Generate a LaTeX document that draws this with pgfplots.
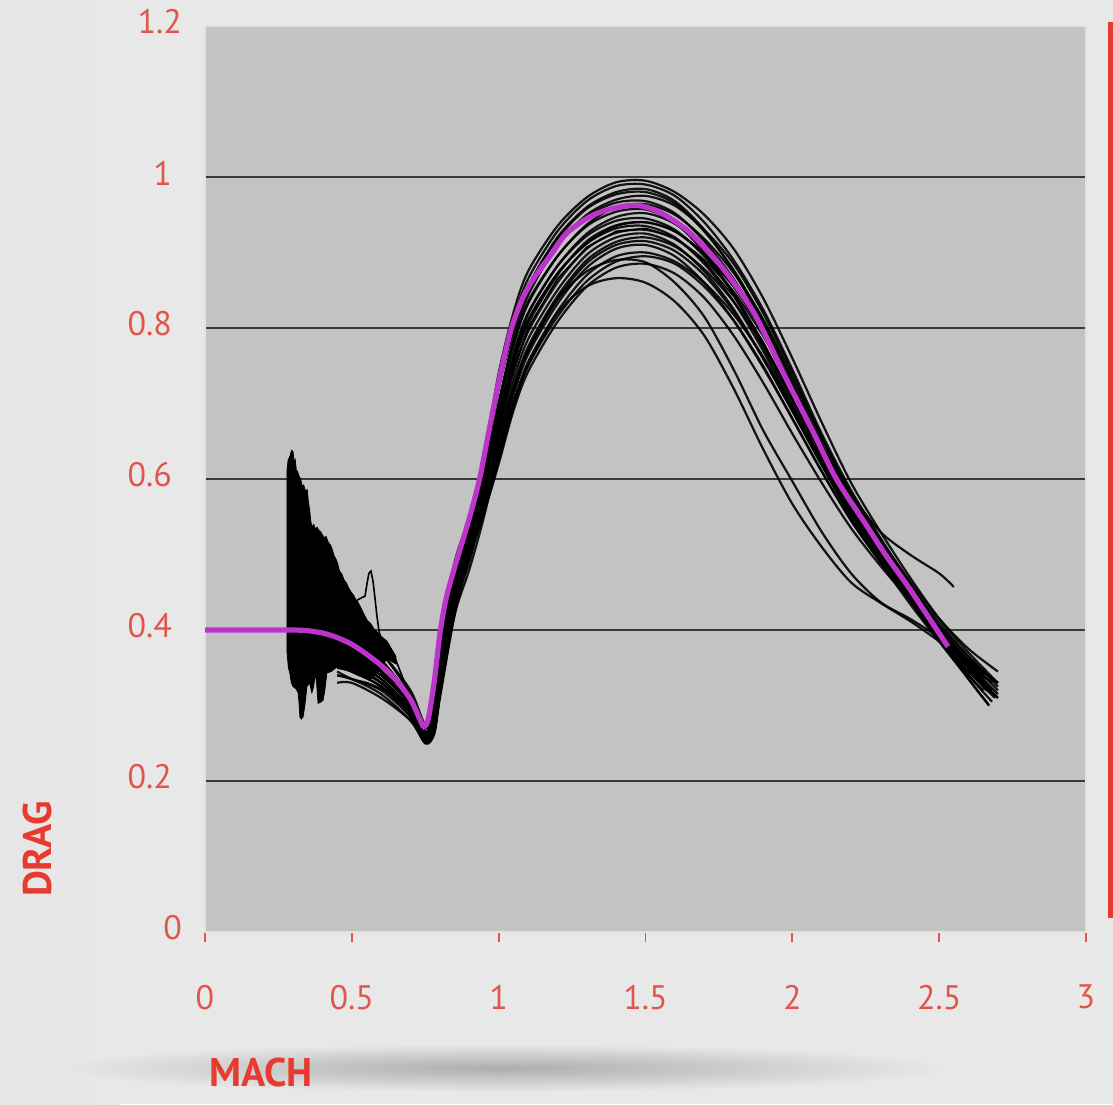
\documentclass[border=0pt]{standalone}
\usepackage{fontspec}
\setmainfont{PT Sans}
\usepackage{pgfplots}
\pgfplotsset{compat=1.18}
\definecolor{bg}{HTML}{E8E8E8}
\definecolor{plotgray}{HTML}{C3C3C3}
\definecolor{boxline}{HTML}{E2E2E2}
\definecolor{gridc}{HTML}{3A3A3A}
\definecolor{tickred}{HTML}{E0564A}
\definecolor{labelred}{HTML}{E63B2E}
\definecolor{mag}{HTML}{BC34C9}
\pgfplotsset{blk/.style={black, line width=1.1pt, smooth, tension=0.5, opacity=0.9}}
\begin{document}
\begin{tikzpicture}[x=1pt,y=1pt]
\fill[bg] (0,0) rectangle (556.5,552);
\shade[left color=black!10, right color=bg] (0,0) rectangle (60,552);
\shade[inner color=black!32, outer color=bg] (250,18) ellipse [x radius=225, y radius=12];
\fill[labelred] (553.8,93) rectangle (556.5,541);
\begin{axis}[
  at={(102.5pt,86pt)}, anchor=south west, scale only axis,
  width=440.5pt, height=453pt,
  xmin=0, xmax=3, ymin=0, ymax=1.2,
  axis background/.style={fill=plotgray},
  axis line style={draw=boxline, line width=1pt},
  xtick={0,0.5,1,1.5,2,2.5,3},
  ytick={0.2,0.4,0.6,0.8,1},
  extra y ticks={0,1.2},
  extra y tick style={grid=none, major tick length=0pt},
  ymajorgrids, major grid style={draw=gridc, line width=1.2pt},
  xtick pos=bottom, ytick pos=left,
  tick align=outside, major tick length=5pt,
  x tick style={draw=tickred, line width=0.9pt},
  y tick style={draw=none},
  /pgf/number format/assume math mode=true,
  ticklabel style={font=\fontsize{17}{19}\selectfont, text=tickred},
  xticklabel style={yshift=-18pt},
  yticklabel style={xshift=-8pt, yshift=2pt},
  clip=true,
]
% noisy region (filled)
\addplot[fill=black, draw=black, line width=0.4pt] coordinates {
(0.279,0.372)(0.279,0.61)(0.283,0.625)(0.289,0.63)(0.295,0.638)(0.300,0.636)(0.303,0.622)(0.307,0.626)(0.311,0.612)(0.315,0.610)(0.320,0.604)(0.326,0.600)(0.331,0.590)(0.336,0.592)(0.342,0.584)(0.348,0.586)(0.352,0.570)(0.356,0.560)(0.360,0.545)(0.364,0.536)(0.370,0.540)(0.376,0.534)(0.382,0.536)(0.388,0.532)(0.394,0.530)(0.400,0.526)(0.406,0.522)(0.412,0.524)(0.420,0.516)(0.428,0.512)(0.434,0.506)(0.440,0.498)(0.446,0.494)(0.452,0.488)(0.458,0.478)(0.466,0.474)(0.474,0.466)(0.482,0.462)(0.490,0.455)(0.498,0.450)(0.506,0.446)(0.514,0.440)(0.522,0.436)(0.530,0.430)(0.540,0.422)(0.552,0.413)(0.565,0.408)(0.578,0.400)(0.590,0.396)(0.605,0.390)(0.620,0.385)(0.635,0.375)(0.650,0.365)
(0.650,0.355)(0.620,0.362)(0.590,0.345)(0.562,0.334)(0.520,0.340)(0.483,0.347)(0.449,0.351)(0.430,0.345)(0.415,0.343)(0.408,0.320)(0.402,0.307)(0.392,0.304)(0.385,0.303)(0.380,0.330)(0.375,0.343)(0.370,0.325)(0.364,0.317)(0.356,0.330)(0.347,0.325)(0.340,0.300)(0.334,0.285)(0.328,0.282)(0.323,0.285)(0.320,0.305)(0.317,0.317)(0.310,0.322)(0.300,0.325)(0.294,0.330)(0.289,0.343)(0.284,0.350)(0.279,0.372)
} -- cycle;
% individual runs
\addplot[blk] coordinates {(0.45,0.40)(0.5,0.39)(0.6,0.36)(0.7,0.31)(0.75,0.27)(0.78,0.31)(0.8,0.39)(0.85,0.49)(0.9,0.55)(0.95,0.63)(1.0,0.74)(1.05,0.82)(1.1,0.875)(1.2,0.935)(1.3,0.973)(1.4,0.993)(1.5,0.995)(1.6,0.98)(1.7,0.95)(1.8,0.905)(1.9,0.84)(2.0,0.76)(2.1,0.675)(2.2,0.595)(2.3,0.53)(2.4,0.47)(2.5,0.415)(2.6,0.37)(2.7,0.33)};
\addplot[blk] coordinates {(0.45,0.38)(0.5,0.37)(0.6,0.345)(0.7,0.30)(0.75,0.262)(0.78,0.30)(0.8,0.37)(0.85,0.48)(0.9,0.545)(0.95,0.62)(1.0,0.73)(1.05,0.81)(1.1,0.865)(1.2,0.928)(1.3,0.968)(1.4,0.988)(1.5,0.99)(1.6,0.975)(1.7,0.94)(1.8,0.89)(1.9,0.825)(2.0,0.745)(2.1,0.66)(2.2,0.585)(2.3,0.522)(2.4,0.462)(2.5,0.405)(2.6,0.355)(2.68,0.32)};
\addplot[blk] coordinates {(0.45,0.41)(0.5,0.40)(0.6,0.37)(0.7,0.315)(0.75,0.27)(0.78,0.29)(0.8,0.36)(0.85,0.47)(0.9,0.54)(0.95,0.61)(1.0,0.72)(1.05,0.80)(1.1,0.855)(1.2,0.92)(1.3,0.96)(1.4,0.98)(1.5,0.984)(1.6,0.968)(1.7,0.93)(1.8,0.875)(1.9,0.805)(2.0,0.725)(2.1,0.645)(2.2,0.575)(2.3,0.515)(2.4,0.46)(2.5,0.41)(2.6,0.365)(2.7,0.325)};
\addplot[blk] coordinates {(0.45,0.37)(0.5,0.36)(0.6,0.335)(0.7,0.295)(0.75,0.258)(0.78,0.28)(0.8,0.34)(0.85,0.46)(0.9,0.53)(0.95,0.60)(1.0,0.70)(1.05,0.785)(1.1,0.843)(1.2,0.91)(1.3,0.95)(1.4,0.97)(1.5,0.975)(1.6,0.962)(1.7,0.93)(1.8,0.885)(1.9,0.82)(2.0,0.74)(2.1,0.655)(2.2,0.58)(2.3,0.515)(2.4,0.455)(2.5,0.40)(2.6,0.35)(2.66,0.32)};
\addplot[blk] coordinates {(0.45,0.42)(0.5,0.405)(0.6,0.37)(0.7,0.32)(0.75,0.275)(0.78,0.30)(0.8,0.37)(0.85,0.475)(0.9,0.54)(0.95,0.615)(1.0,0.72)(1.05,0.795)(1.1,0.848)(1.2,0.91)(1.3,0.948)(1.4,0.966)(1.5,0.968)(1.6,0.952)(1.7,0.915)(1.8,0.865)(1.9,0.80)(2.0,0.72)(2.1,0.64)(2.2,0.565)(2.3,0.50)(2.4,0.44)(2.5,0.385)(2.6,0.335)(2.67,0.30)};
\addplot[blk] coordinates {(0.45,0.36)(0.5,0.355)(0.6,0.33)(0.7,0.29)(0.75,0.255)(0.78,0.27)(0.8,0.33)(0.85,0.45)(0.9,0.525)(0.95,0.595)(1.0,0.695)(1.05,0.775)(1.1,0.832)(1.2,0.895)(1.3,0.937)(1.4,0.96)(1.5,0.964)(1.6,0.95)(1.7,0.918)(1.8,0.873)(1.9,0.812)(2.0,0.735)(2.1,0.655)(2.2,0.58)(2.3,0.52)(2.4,0.465)(2.5,0.415)(2.6,0.375)(2.7,0.345)};
\addplot[blk] coordinates {(0.45,0.39)(0.5,0.38)(0.6,0.355)(0.7,0.305)(0.75,0.265)(0.78,0.285)(0.8,0.35)(0.85,0.46)(0.9,0.53)(0.95,0.60)(1.0,0.70)(1.05,0.78)(1.1,0.835)(1.2,0.895)(1.3,0.935)(1.4,0.954)(1.5,0.957)(1.6,0.94)(1.7,0.90)(1.8,0.845)(1.9,0.775)(2.0,0.70)(2.1,0.625)(2.2,0.555)(2.3,0.495)(2.4,0.44)(2.5,0.39)(2.6,0.34)(2.68,0.305)};
\addplot[blk] coordinates {(0.45,0.35)(0.5,0.345)(0.6,0.325)(0.7,0.285)(0.75,0.25)(0.78,0.265)(0.8,0.32)(0.85,0.44)(0.9,0.515)(0.95,0.585)(1.0,0.68)(1.05,0.76)(1.1,0.818)(1.2,0.882)(1.3,0.925)(1.4,0.947)(1.5,0.952)(1.6,0.938)(1.7,0.905)(1.8,0.858)(1.9,0.795)(2.0,0.72)(2.1,0.645)(2.2,0.575)(2.3,0.515)(2.4,0.46)(2.5,0.405)(2.6,0.36)(2.7,0.33)};
\addplot[blk] coordinates {(0.45,0.38)(0.5,0.37)(0.6,0.345)(0.7,0.30)(0.75,0.26)(0.78,0.275)(0.8,0.335)(0.85,0.45)(0.9,0.52)(0.95,0.59)(1.0,0.685)(1.05,0.765)(1.1,0.82)(1.2,0.882)(1.3,0.922)(1.4,0.942)(1.5,0.945)(1.6,0.93)(1.7,0.895)(1.8,0.845)(1.9,0.78)(2.0,0.705)(2.1,0.63)(2.2,0.56)(2.3,0.50)(2.4,0.445)(2.5,0.395)(2.6,0.35)(2.66,0.33)};
\addplot[blk] coordinates {(0.45,0.34)(0.5,0.335)(0.6,0.315)(0.7,0.28)(0.75,0.252)(0.78,0.27)(0.8,0.33)(0.85,0.445)(0.9,0.515)(0.95,0.58)(1.0,0.67)(1.05,0.75)(1.1,0.805)(1.2,0.87)(1.3,0.915)(1.4,0.936)(1.5,0.94)(1.6,0.928)(1.7,0.898)(1.8,0.855)(1.9,0.795)(2.0,0.72)(2.1,0.64)(2.2,0.565)(2.3,0.505)(2.4,0.45)(2.5,0.40)(2.6,0.36)(2.7,0.32)};
\addplot[blk] coordinates {(0.45,0.40)(0.5,0.39)(0.6,0.36)(0.7,0.31)(0.75,0.265)(0.78,0.28)(0.8,0.34)(0.85,0.45)(0.9,0.52)(0.95,0.585)(1.0,0.675)(1.05,0.755)(1.1,0.81)(1.2,0.872)(1.3,0.912)(1.4,0.932)(1.5,0.935)(1.6,0.92)(1.7,0.885)(1.8,0.835)(1.9,0.77)(2.0,0.695)(2.1,0.62)(2.2,0.55)(2.3,0.49)(2.4,0.435)(2.5,0.385)(2.6,0.34)(2.65,0.32)};
\addplot[blk] coordinates {(0.45,0.36)(0.5,0.355)(0.6,0.335)(0.7,0.295)(0.75,0.258)(0.78,0.27)(0.8,0.325)(0.85,0.44)(0.9,0.51)(0.95,0.575)(1.0,0.665)(1.05,0.74)(1.1,0.795)(1.2,0.86)(1.3,0.905)(1.4,0.926)(1.5,0.93)(1.6,0.918)(1.7,0.89)(1.8,0.848)(1.9,0.79)(2.0,0.72)(2.1,0.645)(2.2,0.575)(2.3,0.51)(2.4,0.45)(2.5,0.395)(2.6,0.35)(2.7,0.31)};
\addplot[blk] coordinates {(0.45,0.33)(0.5,0.33)(0.6,0.31)(0.7,0.28)(0.75,0.25)(0.78,0.262)(0.8,0.315)(0.85,0.43)(0.9,0.505)(0.95,0.57)(1.0,0.655)(1.05,0.73)(1.1,0.785)(1.2,0.85)(1.3,0.897)(1.4,0.92)(1.5,0.925)(1.6,0.91)(1.7,0.875)(1.8,0.825)(1.9,0.76)(2.0,0.69)(2.1,0.62)(2.2,0.555)(2.3,0.50)(2.4,0.45)(2.5,0.405)(2.6,0.365)(2.68,0.335)};
\addplot[blk] coordinates {(0.45,0.37)(0.5,0.36)(0.6,0.34)(0.7,0.30)(0.75,0.26)(0.78,0.27)(0.8,0.325)(0.85,0.435)(0.9,0.505)(0.95,0.565)(1.0,0.645)(1.05,0.72)(1.1,0.775)(1.2,0.842)(1.3,0.89)(1.4,0.914)(1.5,0.92)(1.6,0.908)(1.7,0.878)(1.8,0.835)(1.9,0.778)(2.0,0.708)(2.1,0.635)(2.2,0.565)(2.3,0.505)(2.4,0.45)(2.5,0.40)(2.6,0.355)(2.7,0.315)};
\addplot[blk] coordinates {(0.45,0.35)(0.5,0.345)(0.6,0.325)(0.7,0.29)(0.75,0.255)(0.78,0.265)(0.8,0.315)(0.85,0.425)(0.9,0.50)(0.95,0.56)(1.0,0.635)(1.05,0.71)(1.1,0.765)(1.2,0.832)(1.3,0.88)(1.4,0.905)(1.5,0.91)(1.6,0.895)(1.7,0.86)(1.8,0.81)(1.9,0.748)(2.0,0.68)(2.1,0.61)(2.2,0.545)(2.3,0.49)(2.4,0.44)(2.5,0.395)(2.6,0.35)(2.66,0.325)};
\addplot[blk] coordinates {(0.45,0.39)(0.5,0.375)(0.6,0.35)(0.7,0.305)(0.75,0.265)(0.78,0.275)(0.8,0.33)(0.85,0.44)(0.9,0.505)(0.95,0.56)(1.0,0.63)(1.05,0.70)(1.1,0.755)(1.2,0.822)(1.3,0.87)(1.4,0.895)(1.5,0.90)(1.6,0.888)(1.7,0.86)(1.8,0.818)(1.9,0.762)(2.0,0.695)(2.1,0.625)(2.2,0.56)(2.3,0.50)(2.4,0.445)(2.5,0.39)(2.6,0.345)(2.7,0.31)};
\addplot[blk] coordinates {(0.45,0.34)(0.5,0.335)(0.6,0.32)(0.7,0.285)(0.75,0.255)(0.78,0.262)(0.8,0.31)(0.85,0.42)(0.9,0.495)(0.95,0.555)(1.0,0.625)(1.05,0.695)(1.1,0.75)(1.2,0.815)(1.3,0.862)(1.4,0.888)(1.5,0.895)(1.6,0.885)(1.7,0.855)(1.8,0.81)(1.9,0.75)(2.0,0.68)(2.1,0.61)(2.2,0.545)(2.3,0.49)(2.4,0.44)(2.5,0.395)(2.6,0.355)(2.68,0.33)};
\addplot[blk] coordinates {(0.45,0.37)(0.5,0.36)(0.6,0.34)(0.7,0.30)(0.75,0.262)(0.78,0.27)(0.8,0.32)(0.85,0.43)(0.9,0.50)(0.95,0.555)(1.0,0.62)(1.05,0.69)(1.1,0.742)(1.2,0.808)(1.3,0.855)(1.4,0.88)(1.5,0.885)(1.6,0.872)(1.7,0.84)(1.8,0.79)(1.9,0.728)(2.0,0.66)(2.1,0.595)(2.2,0.535)(2.3,0.485)(2.4,0.44)(2.5,0.40)(2.6,0.36)(2.7,0.33)};
\addplot[blk] coordinates {(0.45,0.38)(0.5,0.37)(0.6,0.345)(0.7,0.30)(0.75,0.26)(0.78,0.275)(0.8,0.335)(0.85,0.445)(0.9,0.515)(0.95,0.58)(1.0,0.675)(1.05,0.755)(1.1,0.81)(1.2,0.872)(1.3,0.912)(1.4,0.935)(1.5,0.94)(1.6,0.928)(1.7,0.898)(1.8,0.855)(1.9,0.795)(2.0,0.72)(2.1,0.645)(2.2,0.58)(2.3,0.53)(2.4,0.50)(2.5,0.475)(2.55,0.457)};
\addplot[blk] coordinates {(0.45,0.36)(0.5,0.35)(0.6,0.33)(0.7,0.295)(0.75,0.262)(0.78,0.27)(0.8,0.315)(0.85,0.42)(0.9,0.48)(0.95,0.55)(1.0,0.635)(1.05,0.70)(1.1,0.75)(1.2,0.82)(1.3,0.855)(1.4,0.866)(1.5,0.86)(1.6,0.835)(1.7,0.79)(1.8,0.72)(1.9,0.64)(2.0,0.567)(2.1,0.51)(2.2,0.463)(2.3,0.436)(2.4,0.412)(2.5,0.385)(2.6,0.355)(2.65,0.34)};
\addplot[blk] coordinates {(0.45,0.38)(0.5,0.37)(0.6,0.345)(0.7,0.30)(0.75,0.265)(0.78,0.275)(0.8,0.325)(0.85,0.43)(0.9,0.49)(0.95,0.565)(1.0,0.655)(1.05,0.72)(1.1,0.77)(1.2,0.838)(1.3,0.875)(1.4,0.89)(1.5,0.887)(1.6,0.86)(1.7,0.815)(1.8,0.745)(1.9,0.665)(2.0,0.597)(2.1,0.53)(2.2,0.475)(2.3,0.437)(2.4,0.415)(2.5,0.39)(2.6,0.36)(2.65,0.345)};
\addplot[blk] coordinates {(0.45,0.35)(0.5,0.35)(0.6,0.33)(0.7,0.29)(0.75,0.255)(0.78,0.29)(0.8,0.36)(0.85,0.47)(0.9,0.535)(0.95,0.615)(1.0,0.725)(1.05,0.80)(1.1,0.855)(1.2,0.918)(1.3,0.958)(1.4,0.977)(1.5,0.98)(1.6,0.965)(1.7,0.928)(1.8,0.877)(1.9,0.81)(2.0,0.73)(2.1,0.648)(2.2,0.57)(2.3,0.505)(2.4,0.445)(2.5,0.39)(2.6,0.335)(2.67,0.30)};
% run with the bump near Mach 0.56
\addplot[black, line width=0.8pt] coordinates {(0.50,0.43)(0.52,0.44)(0.545,0.445)(0.552,0.462)(0.558,0.475)(0.565,0.478)(0.572,0.465)(0.578,0.445)(0.585,0.42)(0.592,0.40)(0.60,0.385)(0.65,0.36)(0.70,0.31)(0.75,0.262)(0.78,0.28)(0.80,0.335)(0.85,0.445)(0.90,0.51)(0.95,0.575)(1.00,0.665)(1.05,0.745)(1.10,0.80)(1.20,0.865)(1.30,0.907)(1.40,0.928)(1.50,0.932)(1.60,0.92)(1.70,0.888)(1.80,0.842)(1.90,0.782)(2.00,0.708)(2.10,0.632)(2.20,0.562)(2.30,0.50)(2.40,0.445)(2.50,0.40)(2.60,0.355)(2.66,0.335)};
% lower run below the bundle
\addplot[blk] coordinates {(0.45,0.345)(0.5,0.335)(0.55,0.33)(0.6,0.322)(0.65,0.312)(0.7,0.295)(0.75,0.258)(0.78,0.265)(0.8,0.315)(0.85,0.43)(0.9,0.50)(0.95,0.562)(1.0,0.64)(1.05,0.715)(1.1,0.77)(1.2,0.838)(1.3,0.886)(1.4,0.91)(1.5,0.915)(1.6,0.902)(1.7,0.87)(1.8,0.822)(1.9,0.76)(2.0,0.69)(2.1,0.618)(2.2,0.55)(2.3,0.492)(2.4,0.44)(2.5,0.392)(2.6,0.345)(2.69,0.31)};
% mean curve
\addplot[mag, line width=2.6pt, smooth, tension=0.5] coordinates {
(0,0.40)(0.1,0.40)(0.2,0.40)(0.3,0.40)(0.35,0.399)(0.4,0.396)(0.45,0.39)(0.5,0.381)(0.55,0.368)(0.6,0.353)(0.65,0.334)(0.7,0.308)(0.73,0.283)(0.745,0.272)(0.76,0.282)(0.78,0.33)(0.8,0.395)(0.82,0.44)(0.85,0.483)(0.875,0.515)(0.9,0.548)(0.935,0.6)(0.97,0.67)(1.0,0.728)(1.04,0.795)(1.08,0.838)(1.12,0.866)(1.18,0.898)(1.23,0.925)(1.3,0.945)(1.35,0.954)(1.42,0.961)(1.48,0.962)(1.55,0.953)(1.64,0.93)(1.74,0.89)(1.8,0.86)(1.86,0.826)(1.9,0.797)(1.98,0.732)(2.07,0.663)(2.15,0.6)(2.25,0.54)(2.32,0.498)(2.39,0.46)(2.45,0.425)(2.53,0.378)};
\end{axis}
\node[rotate=90, text=labelred, font=\bfseries\fontsize{20}{22}\selectfont] at (18.5,127.5) {DRAG};
\node[text=labelred, font=\bfseries\fontsize{20}{22}\selectfont] at (130.5,16) {MACH};
\end{tikzpicture}
\end{document}
